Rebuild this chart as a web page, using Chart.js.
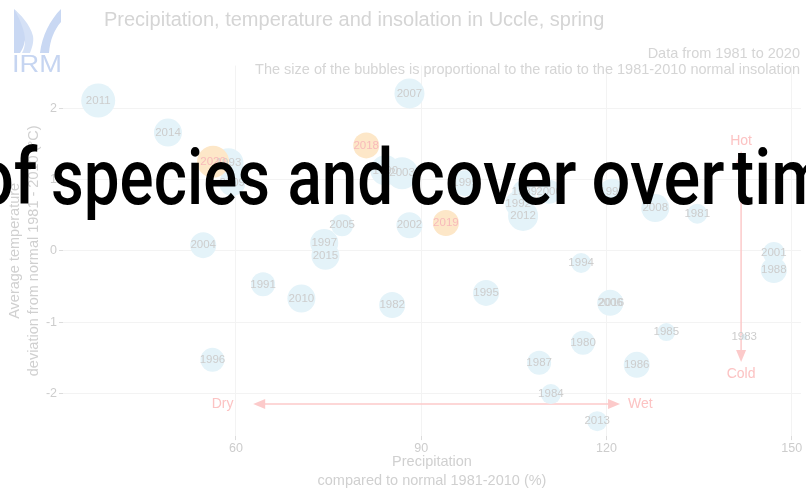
<!DOCTYPE html>
<html>
<head>
<meta charset="utf-8">
<script src="https://cdn.jsdelivr.net/npm/chart.js@4.4.1/dist/chart.umd.min.js"></script>
<style>
html,body{margin:0;padding:0;background:#fff;}
#wrap{position:relative;width:806px;height:489px;overflow:hidden;font-family:"Liberation Sans",Arial,sans-serif;}
#c{position:absolute;left:0;top:0;}
.t{position:absolute;white-space:nowrap;}
svg{position:absolute;left:0;top:0;}
</style>
</head>
<body>
<div id="wrap">
<canvas id="c" width="806" height="489"></canvas>
<svg width="70" height="80" viewBox="0 0 70 80">
  <path d="M14 9 C22 18 26 28 25 40 C24 46 22 50 20 53 L14 53 Z" fill="#c9d8f3"/>
  <path d="M14 9 C20 14 30 24 33 36 C34 42 32 48 30 53 L22 53 C26 46 26 36 22 26 C20 20 17 14 14 9 Z" fill="#d5e1f6"/>
  <path d="M61 9 L61 22 C54 30 50 40 49 53 L40 53 C42 36 50 20 61 9 Z" fill="#c9d8f3"/>
  <text x="12" y="72" font-family="Liberation Sans, Arial, sans-serif" font-size="23" textLength="50" lengthAdjust="spacingAndGlyphs" fill="#c6d5f1">IRM</text>
</svg>
<div class="t" style="left:104px;top:8px;font-size:20px;color:#d5d5d5;">Precipitation, temperature and insolation in Uccle, spring</div>
<div class="t" style="right:6px;top:45px;font-size:14.5px;line-height:16px;color:#d5d5d5;text-align:right;">Data from 1981 to 2020<br>The size of the bubbles is proportional to the ratio to the 1981-2010 normal insolation</div>
<svg width="806" height="489" viewBox="0 0 806 489">
  <text transform="translate(0 204) scale(0.86 1)" y="0" font-family="Roboto, Liberation Sans, sans-serif" font-weight="500" font-size="77.6" fill="#000"><tspan x="-27.9">of</tspan> <tspan x="59.3" textLength="254.7" lengthAdjust="spacingAndGlyphs">species</tspan> <tspan x="334.3" textLength="123" lengthAdjust="spacingAndGlyphs">and</tspan> <tspan x="476.2" textLength="194" lengthAdjust="spacingAndGlyphs">cover</tspan> <tspan x="687.8" textLength="154.7" lengthAdjust="spacingAndGlyphs">over</tspan> <tspan x="851.2">time</tspan></text>
</svg>
</div>
<script>
// ---- data ----
const years  = [1980,1981,1982,1983,1984,1985,1986,1987,1988,1989,1990,1991,1992,1993,1994,1995,1996,1997,1998,1999,2000,2001,2002,2003,2004,2005,2006,2007,2008,2009,2010,2011,2012,2013,2014,2015,2016,2018,2019,2020];
const precip = [116.2,134.7,85.3,142.3,111.0,129.7,124.9,109.1,147.1,106.7,84.2,64.4,105.7,58.8,115.9,100.5,56.2,74.3,120.9,97.1,110.7,147.1,88.1,86.9,54.7,77.2,120.6,88.1,127.9,59.4,70.6,37.7,106.5,118.5,49.0,74.5,120.8,81.1,94.0,56.3];
const tempDev= [-1.29,0.52,-0.76,-1.21,-2.01,-1.14,-1.60,-1.57,-0.27,0.83,1.13,-0.47,0.66,1.23,-0.17,-0.59,-1.53,0.11,0.83,0.95,0.83,-0.03,0.36,1.09,0.08,0.36,-0.73,2.21,0.60,0.95,-0.67,2.11,0.49,-2.39,1.66,-0.07,-0.73,1.48,0.39,1.25];
const insol  = [111,103,115,75,103,99,115,111,115,111,123,111,115,123,103,115,111,119,115,115,111,107,115,127,115,107,115,123,119,115,119,131,123,103,119,119,111,115,115,127];
const highlightYears = [2018,2019,2020];
const xTicks = [60,90,120,150];
const yTicks = [-2,-1,0,1,2];
const xTitle = ['Precipitation','compared to normal 1981-2010 (%)'];
const yTitle = ['Average temperature','deviation from normal 1981 - 2010 (°C)'];
// annotation arrows: [from, to, at]
const hArrow = [62.8, 122.2, -2.15];
const vArrow = [1.40, -1.56, 141.8];
const arrowLabels = [
  {text:'Dry', x:59.6, y:-2.15, align:'right'},
  {text:'Wet', x:123.5, y:-2.15, align:'left'},
  {text:'Hot', x:141.8, y:1.54, align:'center'},
  {text:'Cold', x:141.8, y:-1.73, align:'center'}
];

const FONT = '"Liberation Sans", Arial, sans-serif';
Chart.defaults.font.family = FONT;

const radius = v => 3 + (v - 75) * 0.25;
const isHi = y => highlightYears.includes(y);

const points = years.map((y,i)=>({x:precip[i], y:tempDev[i], r:radius(insol[i])}));

function arrowHead(ctx, tx, ty, dx, dy){
  const L=12, W=5;
  const bx = tx - dx*L, by = ty - dy*L;
  ctx.beginPath();
  ctx.moveTo(tx,ty);
  ctx.lineTo(bx - dy*W, by + dx*W);
  ctx.lineTo(bx + dy*W, by - dx*W);
  ctx.closePath();
  ctx.fill();
}

const annot = {
  id:'annot',
  beforeDatasetsDraw(chart){
    const {ctx, scales:{x, y}} = chart;
    ctx.save();
    ctx.strokeStyle = '#fccaca';
    ctx.fillStyle = '#fccaca';
    ctx.lineWidth = 1.5;
    let x1 = x.getPixelForValue(hArrow[0]), x2 = x.getPixelForValue(hArrow[1]), yy = y.getPixelForValue(hArrow[2]);
    ctx.beginPath(); ctx.moveTo(x1+10,yy); ctx.lineTo(x2-10,yy); ctx.stroke();
    arrowHead(ctx,x1,yy,-1,0); arrowHead(ctx,x2,yy,1,0);
    let y1 = y.getPixelForValue(vArrow[0]), y2 = y.getPixelForValue(vArrow[1]), xx = x.getPixelForValue(vArrow[2]);
    ctx.beginPath(); ctx.moveTo(xx,y1+10); ctx.lineTo(xx,y2-10); ctx.stroke();
    arrowHead(ctx,xx,y1,0,-1); arrowHead(ctx,xx,y2,0,1);
    ctx.font = '14px ' + FONT;
    ctx.fillStyle = '#fcc3c3';
    ctx.textBaseline = 'middle';
    arrowLabels.forEach(l=>{
      ctx.textAlign = l.align;
      ctx.fillText(l.text, x.getPixelForValue(l.x), y.getPixelForValue(l.y));
    });
    ctx.restore();
  },
  afterDatasetsDraw(chart){
    const {ctx} = chart;
    const meta = chart.getDatasetMeta(0);
    ctx.save();
    ctx.font = '11.5px ' + FONT;
    ctx.textAlign = 'center';
    ctx.textBaseline = 'middle';
    meta.data.forEach((el,i)=>{
      ctx.fillStyle = isHi(years[i]) ? '#f8baba' : '#cdcdcd';
      ctx.fillText(String(years[i]), el.x, el.y);
    });
    ctx.restore();
  }
};

new Chart(document.getElementById('c'), {
  type:'bubble',
  data:{
    datasets:[{
      data: points,
      backgroundColor: years.map(y => isHi(y) ? '#fde7c8' : '#e4f3f9'),
      borderWidth: 0,
      hoverRadius: 0
    }]
  },
  options:{
    responsive:false,
    animation:false,
    devicePixelRatio:1,
    events:[],
    layout:{autoPadding:false, padding:{top:65.6,right:5,bottom:0,left:0}},
    plugins:{legend:{display:false},tooltip:{enabled:false},title:{display:false}},
    scales:{
      x:{
        type:'linear', min:32, max:151.5,
        afterBuildTicks: s => { s.ticks = xTicks.map(v=>({value:v})); },
        afterFit: s => { s.height = 52.9; s.paddingLeft = 0; s.paddingRight = 0; },
        grid:{color:'#f3f3f3', tickColor:'#dcdcdc', tickLength:4, lineWidth:1},
        border:{display:false},
        ticks:{color:'#cdcdcd', font:{size:12.5, family:FONT}, padding:1, maxRotation:0},
        title:{display:true, text:xTitle, color:'#d0d0d0', font:{size:14.5, family:FONT, lineHeight:1.3}, padding:{top:0,bottom:-1}}
      },
      y:{
        type:'linear', min:-2.6, max:2.6,
        afterBuildTicks: s => { s.ticks = yTicks.map(v=>({value:v})); },
        afterFit: s => { s.width = 63; s.paddingTop = 0; s.paddingBottom = 0; },
        grid:{color:'#f3f3f3', tickColor:'#dcdcdc', tickLength:4, lineWidth:1},
        border:{display:false},
        ticks:{color:'#cdcdcd', font:{size:12.5, family:FONT}, padding:2},
        title:{display:true, text:yTitle, color:'#d0d0d0', font:{size:14.5, family:FONT, lineHeight:1.28}, padding:{top:6,bottom:0}}
      }
    }
  },
  plugins:[annot]
});
</script>
</body>
</html>
